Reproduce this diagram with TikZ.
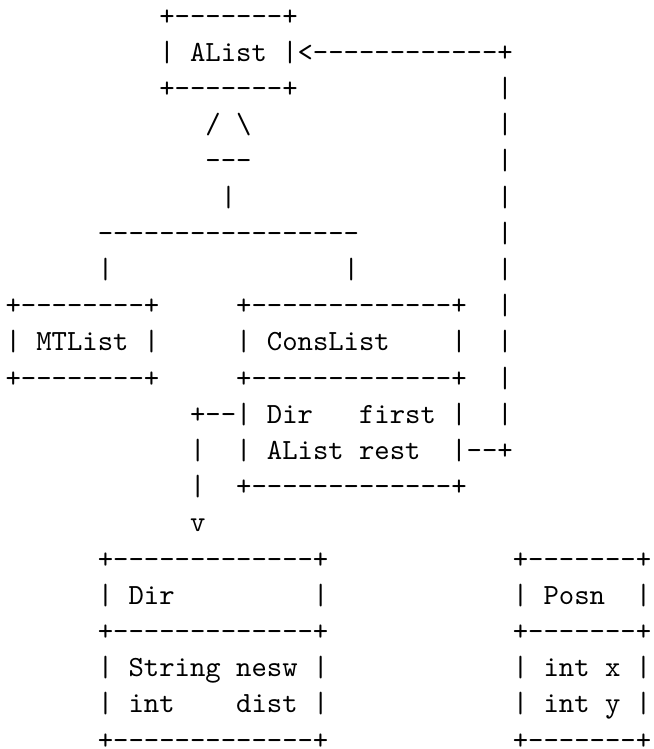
\documentclass[tikz,border=0pt]{standalone}
\usepackage{tikz}
\newcommand\dashes[1]{\foreach \k in {1,...,#1}{-\kern0pt}}
\newcommand\seg[4]{\node[txt] (#1) at ({1.91pt+#2*5.25pt},{-8.55pt-#3*12.365pt}) {#4};}
\tikzset{txt/.style={anchor=base west,inner sep=0pt,outer sep=0pt,font=\ttfamily,text=black}}
\begin{document}
\begin{tikzpicture}
\fill[white] (0,0) rectangle (223.05pt,-255.84pt);
\useasboundingbox (0,0) rectangle (223.05pt,-255.84pt);
% AList box and its arrow
\seg{a0}{10}{0}{+\dashes{7}+}
\seg{a1l}{10}{1}{|}
\seg{a1t}{12}{1}{AList}
\seg{a1r}{18}{1}{|<\dashes{12}+}
\seg{a2}{10}{2}{+\dashes{7}+}
\seg{v2}{32}{2}{|}
% inheritance triangle
\seg{t3l}{13}{3}{/}
\seg{t3r}{15}{3}{\textbackslash}
\seg{v3}{32}{3}{|}
\seg{t4}{13}{4}{\dashes{3}}
\seg{v4}{32}{4}{|}
\seg{t5}{14}{5}{|}
\seg{v5}{32}{5}{|}
\seg{t6}{6}{6}{\dashes{17}}
\seg{v6}{32}{6}{|}
\seg{t7l}{6}{7}{|}
\seg{t7r}{22}{7}{|}
\seg{v7}{32}{7}{|}
% MTList and ConsList
\seg{m8}{0}{8}{+\dashes{8}+}
\seg{c8}{15}{8}{+\dashes{13}+}
\seg{v8}{32}{8}{|}
\seg{m9l}{0}{9}{|}
\seg{m9t}{2}{9}{MTList}
\seg{m9r}{9}{9}{|}
\seg{c9l}{15}{9}{|}
\seg{c9t}{17}{9}{ConsList}
\seg{c9r}{29}{9}{|}
\seg{v9}{32}{9}{|}
\seg{m10}{0}{10}{+\dashes{8}+}
\seg{c10}{15}{10}{+\dashes{13}+}
\seg{v10}{32}{10}{|}
\seg{c11l}{12}{11}{+\dashes{2}|}
\seg{c11a}{17}{11}{Dir}
\seg{c11b}{23}{11}{f\kern0pt irst}
\seg{c11r}{29}{11}{|}
\seg{v11}{32}{11}{|}
\seg{d12}{12}{12}{|}
\seg{c12l}{15}{12}{|}
\seg{c12a}{17}{12}{AList}
\seg{c12b}{23}{12}{rest}
\seg{c12r}{29}{12}{|\dashes{2}+}
\seg{d13}{12}{13}{|}
\seg{c13}{15}{13}{+\dashes{13}+}
\seg{d14}{12}{14}{v}
% Dir and Posn
\seg{r15}{6}{15}{+\dashes{13}+}
\seg{p15}{33}{15}{+\dashes{7}+}
\seg{r16l}{6}{16}{|}
\seg{r16t}{8}{16}{Dir}
\seg{r16r}{20}{16}{|}
\seg{p16l}{33}{16}{|}
\seg{p16t}{35}{16}{Posn}
\seg{p16r}{41}{16}{|}
\seg{r17}{6}{17}{+\dashes{13}+}
\seg{p17}{33}{17}{+\dashes{7}+}
\seg{r18l}{6}{18}{|}
\seg{r18a}{8}{18}{String}
\seg{r18b}{15}{18}{nesw}
\seg{r18r}{20}{18}{|}
\seg{p18l}{33}{18}{|}
\seg{p18a}{35}{18}{int}
\seg{p18b}{39}{18}{x}
\seg{p18r}{41}{18}{|}
\seg{r19l}{6}{19}{|}
\seg{r19a}{8}{19}{int}
\seg{r19b}{15}{19}{dist}
\seg{r19r}{20}{19}{|}
\seg{p19l}{33}{19}{|}
\seg{p19a}{35}{19}{int}
\seg{p19b}{39}{19}{y}
\seg{p19r}{41}{19}{|}
\seg{r20}{6}{20}{+\dashes{13}+}
\seg{p20}{33}{20}{+\dashes{7}+}
\end{tikzpicture}
\end{document}
